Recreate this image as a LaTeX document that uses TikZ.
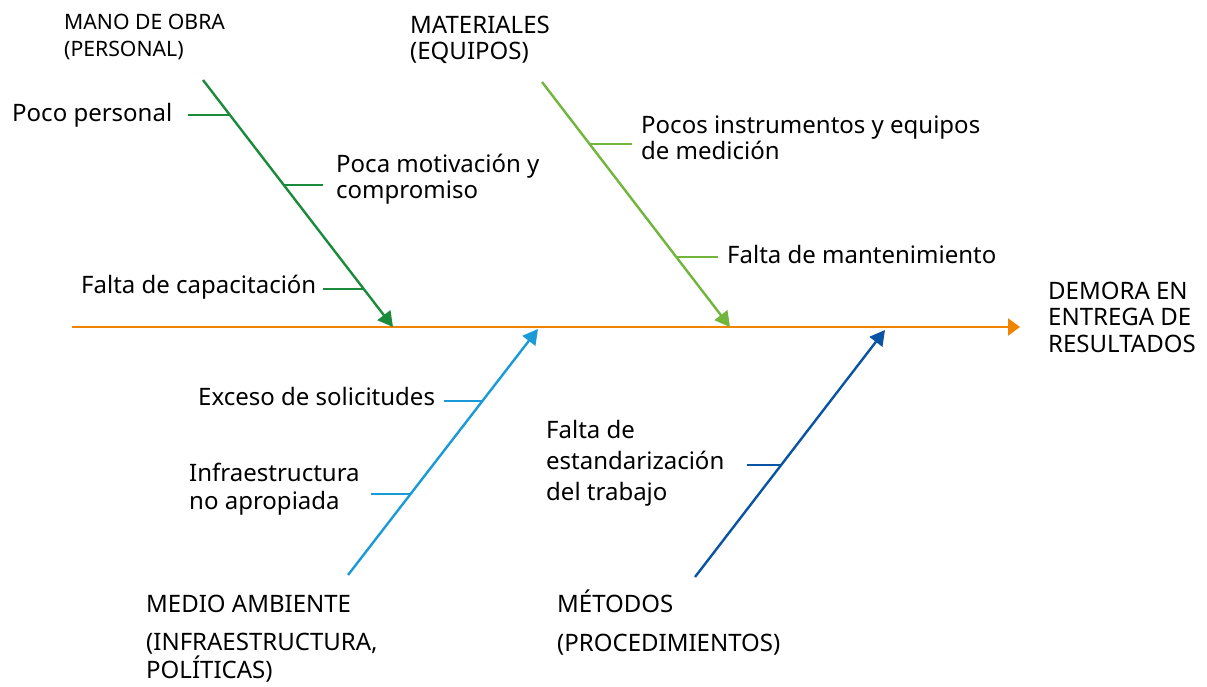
\documentclass[tikz,border=0pt]{standalone}
\usepackage{fontspec}
\setmainfont{Noto Sans}
\usetikzlibrary{arrows.meta}
\definecolor{spineC}{HTML}{F08300}
\definecolor{dgreen}{HTML}{1B8A3A}
\definecolor{lgreen}{HTML}{72B53C}
\definecolor{lblue}{HTML}{1A9BD7}
\definecolor{dblue}{HTML}{0B54A4}
\begin{document}
\begin{tikzpicture}[x=1pt,y=-1pt,
  bone/.style={line width=2.4pt,-{Triangle[length=15pt,width=16pt]}},
  sub/.style={line width=2.2pt},
  lbl/.style={anchor=base west,inner sep=0pt,align=left,font=\fontsize{24}{26}\selectfont},
  cat/.style={anchor=base west,inner sep=0pt,align=left,font=\fontsize{24}{26.5}\selectfont},
  catsm/.style={anchor=base west,inner sep=0pt,align=left,font=\fontsize{21.2}{27.5}\selectfont}]
\useasboundingbox (0,0) rectangle (1207,686);
% spine
\coordinate (sp0) at (72,327);
\coordinate (sp1) at (1020,327);
\draw[line width=2.4pt,spineC,-{Triangle[length=12pt,width=17pt]}] (sp0) -- (sp1);
\node[cat] (effect) at (1048,352) {DEMORA EN\\ENTREGA DE\\RESULTADOS};
% bone 1: mano de obra
\coordinate (b1s) at (203,80);
\coordinate (b1e) at (393,327);
\draw[bone,dgreen] (b1s) -- (b1e);
\node[catsm] (c1) at (64,56.5) {MANO DE OBRA\\(PERSONAL)};
\coordinate (s11a) at (188,115); \coordinate (s11b) at (230,115);
\draw[sub,dgreen] (s11a) -- (s11b);
\node[lbl] (t11) at (12,121) {Poco personal};
\coordinate (s12a) at (284,185); \coordinate (s12b) at (323,185);
\draw[sub,dgreen] (s12a) -- (s12b);
\node[lbl] (t12) at (336,198) {Poca motivación y\\compromiso};
\coordinate (s13a) at (323,289); \coordinate (s13b) at (364,289);
\draw[sub,dgreen] (s13a) -- (s13b);
\node[lbl] (t13) at (81,293) {Falta de capacitación};
% bone 2: materiales
\coordinate (b2s) at (542,82);
\coordinate (b2e) at (730,327);
\draw[bone,lgreen] (b2s) -- (b2e);
\node[cat,font=\fontsize{24}{26}\selectfont] (c2) at (410,59) {MATERIALES\\(EQUIPOS)};
\coordinate (s21a) at (590,144); \coordinate (s21b) at (632,144);
\draw[sub,lgreen] (s21a) -- (s21b);
\node[lbl] (t21) at (641,159) {Pocos instrumentos y equipos\\de medición};
\coordinate (s22a) at (676,257); \coordinate (s22b) at (718,257);
\draw[sub,lgreen] (s22a) -- (s22b);
\node[lbl] (t22) at (727,263) {Falta de mantenimiento};
% bone 3: medio ambiente
\coordinate (b3s) at (348,575);
\coordinate (b3e) at (538,329);
\draw[bone,lblue] (b3s) -- (b3e);
\node[cat] (c3a) at (146,612) {MEDIO AMBIENTE};
\node[cat,font=\fontsize{24}{26}\selectfont] (c3b) at (146,678) {(INFRAESTRUCTURA,\\POLÍTICAS)};
\coordinate (s31a) at (444,401); \coordinate (s31b) at (483,401);
\draw[sub,lblue] (s31a) -- (s31b);
\node[lbl] (t31) at (198,405) {Exceso de solicitudes};
\coordinate (s32a) at (371,494); \coordinate (s32b) at (411,494);
\draw[sub,lblue] (s32a) -- (s32b);
\node[lbl,font=\fontsize{24}{28}\selectfont] (t32) at (189,509) {Infraestructura\\no apropiada};
% bone 4: metodos
\coordinate (b4s) at (695,577);
\coordinate (b4e) at (885,330);
\draw[bone,dblue] (b4s) -- (b4e);
\node[cat] (c4a) at (557,612) {MÉTODOS};
\node[cat] (c4b) at (557,651) {(PROCEDIMIENTOS)};
\coordinate (s41a) at (747,465); \coordinate (s41b) at (782,465);
\draw[sub,dblue] (s41a) -- (s41b);
\node[lbl,font=\fontsize{24}{31}\selectfont] (t41) at (546,500) {Falta de\\estandarización\\del trabajo};
\end{tikzpicture}
\end{document}
